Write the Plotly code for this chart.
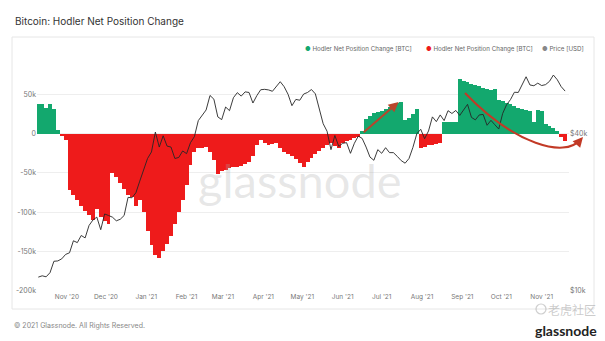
import pandas as pd
import plotly.graph_objects as go

# Sampling dates (every 3 days)
dates = pd.date_range(start="2020-10-10", periods=136, freq="3D")

# Hodler net position change, thousands of BTC
net_position_k = [
    38, 37, 33, 38, 31, 4, -3, -8, -72, -78,
    -84, -92, -98, -104, -110, -96, -106, -111, -115, -50,
    -55, -63, -71, -78, -80, -92, -84, -100, -124, -142,
    -154, -158, -149, -140, -130, -115, -100, -84, -65, -40,
    -24, -19, -18, -17, -23, -34, -52, -48, -46, -44,
    -43, -42, -41, -39, -36, -28, -15, -8, -12, -15,
    -13, -12, -18, -23, -26, -28, -33, -38, -42, -36,
    -31, -26, -22, -19, -15, -12, -16, -18, -12, -10,
    -8, -6, -4, 3, 18, 22, 26, 27, 29, 31,
    34, 37, 39, 40, 17, 20, 25, 31, -19, -17,
    -15, -14, -13, -12, 14, 14, 15, 15, 69, 67,
    65, 63, 61, 60, 58, 56, 55, 56, 42, 41,
    39, 37, 35, 33, 31, 30, 28, 14, 30, 29,
    12, 10, 7, 3, -4, -10,
]

# BTC price, USD
price_usd = [
    11300, 11430, 11330, 11750, 12990, 13030, 13270, 13800, 14000, 15560,
    15310, 16300, 15960, 17800, 18680, 19160, 17150, 19700, 19440, 19150,
    18550, 18800, 19440, 22800, 22720, 23730, 26300, 28900, 32100, 34000,
    40500, 35500, 39200, 35800, 35500, 32100, 32400, 34300, 33500, 36900,
    38900, 44800, 47100, 49200, 55900, 54100, 46300, 45200, 50500, 48900,
    54800, 57300, 55600, 57700, 57400, 52300, 55800, 58800, 59000, 58700,
    58000, 60200, 63100, 60400, 56500, 51100, 54000, 53600, 56600, 57400,
    58900, 56700, 49600, 43600, 40800, 34700, 39300, 35700, 36700, 36900,
    33600, 36700, 39100, 38300, 35500, 32500, 31600, 34700, 33600, 35300,
    33800, 33800, 32700, 31500, 30800, 32100, 35400, 39900, 41500, 38200,
    40900, 46300, 44400, 47100, 44800, 48900, 47700, 49000, 46900, 49300,
    51700, 46100, 45100, 47100, 47300, 43000, 44900, 43200, 41600, 47700,
    51500, 53900, 57500, 57400, 61500, 65900, 61300, 60900, 62300, 61000,
    61500, 63300, 66900, 64200, 60400, 58100,
]

left_tick_vals = [-200000, -150000, -100000, -50000, 0, 50000]
left_tick_text = ["-200k", "-150k", "-100k", "-50k", "0", "50k"]
right_tick_vals = [10000, 40000]
right_tick_text = ["$10k", "$40k"]

GREEN = "#13a86e"
RED = "#ee1b1b"
PRICE = "#262626"
ARROW = "#c23a26"
FONT = "Inter"

net_btc = [v * 1000 for v in net_position_k]
gains = [v if v >= 0 else None for v in net_btc]
losses = [v if v < 0 else None for v in net_btc]
bar_width_ms = 3 * 86400000

fig = go.Figure()
fig.add_bar(x=dates, y=gains, width=bar_width_ms, marker=dict(color=GREEN, line=dict(width=0)),
            name="Hodler Net Position Change [BTC]", showlegend=False)
fig.add_bar(x=dates, y=losses, width=bar_width_ms, marker=dict(color=RED, line=dict(width=0)),
            name="Hodler Net Position Change [BTC]", showlegend=False)
fig.add_scatter(x=dates, y=price_usd, yaxis="y2", mode="lines", line=dict(color=PRICE, width=0.9),
                name="Price [USD]", showlegend=False)

# plot area in pixels: x 37..569, y 60..291
L, R, T, B = 37, 569, 60, 291
W, H = R - L, B - T


def px(x):
    return (x - L) / W


def py(y):
    return (B - y) / H


annotations = [
    dict(text="Bitcoin: Hodler Net Position Change", x=px(13), y=py(21), xref="paper", yref="paper",
         xanchor="left", yanchor="middle", showarrow=False, font=dict(family=FONT, size=10, color="#333")),
    dict(text="© 2021 Glassnode. All Rights Reserved.", x=px(12), y=py(325), xref="paper", yref="paper",
         xanchor="left", yanchor="middle", showarrow=False, font=dict(family=FONT, size=7, color="#888")),
    dict(text="glassnode", x=px(300), y=py(180), xref="paper", yref="paper", xanchor="center", yanchor="middle",
         showarrow=False, font=dict(family="Lato", size=47, color="rgba(170,170,170,0.28)")),
    dict(text="<b>glassnode</b>", x=px(599), y=py(330), xref="paper", yref="paper", xanchor="right",
         yanchor="middle", showarrow=False, font=dict(family="Lato", size=14, color="#222")),
    dict(text="老虎社区", x=px(598), y=py(309), xref="paper", yref="paper", xanchor="right", yanchor="middle",
         showarrow=False, font=dict(family="Noto Sans CJK SC", size=12, color="rgba(160,160,160,0.55)")),
]

legend_items = [(305, GREEN, "Hodler Net Position Change [BTC]"),
                (426, RED, "Hodler Net Position Change [BTC]"),
                (542, "#888", "Price [USD]")]
for x0, col, label in legend_items:
    annotations.append(dict(text=f"<span style='color:{col}'>●</span> {label}", x=px(x0 - 2), y=py(49),
                            xref="paper", yref="paper", xanchor="left", yanchor="middle", showarrow=False,
                            font=dict(family=FONT, size=6.2, color="#666")))

# straight arrow over the summer accumulation
annotations.append(dict(text="", x="2021-07-14", y=40000, xref="x", yref="y",
                        ax="2021-06-16", ay=0, axref="x", ayref="y", showarrow=True,
                        arrowhead=2, arrowsize=1, arrowwidth=2, arrowcolor="#b8452c"))
# arrowhead for the curved arrow
annotations.append(dict(text="", x=px(583), y=py(137), xref="paper", yref="paper",
                        ax=-7, ay=8, showarrow=True, arrowhead=2, arrowsize=1, arrowwidth=2,
                        arrowcolor=ARROW))

shapes = [
    dict(type="rect", xref="paper", yref="paper", x0=px(12), x1=px(594), y0=py(309), y1=py(37),
         line=dict(color="#e6e6e6", width=1), layer="below"),
    dict(type="path", xref="paper", yref="paper",
         path=f"M {px(465)},{py(93)} C {px(515)},{py(145)} {px(565)},{py(158)} {px(580)},{py(140)}",
         line=dict(color=ARROW, width=2)),
    dict(type="circle", xref="paper", yref="paper", x0=px(536), x1=px(546), y0=py(314), y1=py(304),
         line=dict(color="rgba(160,160,160,0.5)", width=1.2)),
]

fig.update_layout(
    width=605, height=341, autosize=False,
    margin=dict(l=L, r=605 - R, t=T, b=341 - B),
    paper_bgcolor="white", plot_bgcolor="white",
    barmode="overlay", bargap=0,
    showlegend=False,
    font=dict(family=FONT, size=7, color="#777"),
    xaxis=dict(type="date", range=["2020-10-09", "2021-11-22"], tickmode="linear", tick0="2020-11-01",
               dtick="M1", tickformat="%b '%y", showgrid=False, zeroline=False, showline=False,
               ticks="", tickfont=dict(size=6.5, color="#777")),
    yaxis=dict(range=[-200000, 93333], tickmode="array", tickvals=left_tick_vals, ticktext=left_tick_text,
               showgrid=True, gridcolor="#eeeeee", gridwidth=1, zeroline=False, showline=False, ticks="",
               tickfont=dict(size=7, color="#777")),
    yaxis2=dict(type="log", overlaying="y", side="right", range=[4, 4.883], tickmode="array",
                tickvals=right_tick_vals, ticktext=right_tick_text, showgrid=False, zeroline=False,
                showline=False, ticks="", tickfont=dict(size=7, color="#777")),
    annotations=annotations,
    shapes=shapes,
)

fig.write_html("out.html")
